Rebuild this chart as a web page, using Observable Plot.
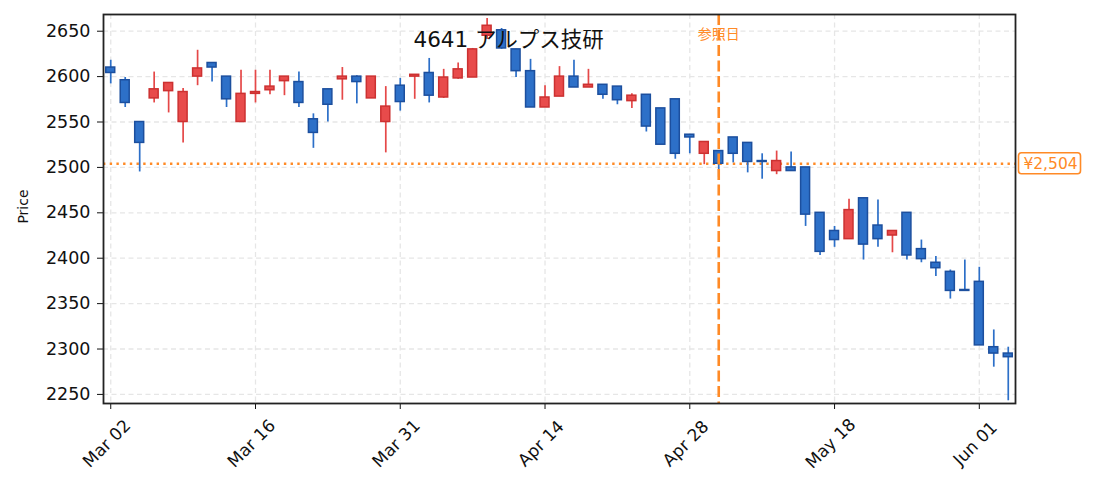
<!DOCTYPE html>
<html><head><meta charset="utf-8">
<script src="https://cdn.jsdelivr.net/npm/d3@7"></script>
<script src="https://cdn.jsdelivr.net/npm/@observablehq/plot@0.6"></script>
<style>body{margin:0;background:#fff} svg{display:block}</style>
</head><body><div id="chart"></div>
<script>
const title = "4641 アルプス技研";
const refLabel = "参照日";
const yLabel = "Price";
const tickLabels = ["Mar 02", "Mar 16", "Mar 31", "Apr 14", "Apr 28", "May 18", "Jun 01"];
const tickIndex = [0, 10, 20, 30, 40, 50, 60];
const yTicks = [2250, 2300, 2350, 2400, 2450, 2500, 2550, 2600, 2650];
const opens  = [2610,2596,2550,2576,2584,2550,2600,2615,2600,2550,2581,2585,2595,2594,2553,2586,2597,2600,2576,2550,2590,2600,2604,2577,2598,2599,2645,2651,2630,2606,2566,2578,2600,2588,2591,2589,2573,2580,2565,2575,2536,2515,2518,2533,2527,2507,2496,2500,2500,2450,2430,2421,2466,2436,2425,2450,2410,2395,2385,2365,2374,2302,2295];
const highs  = [2618,2599,2550,2605,2593,2587,2629,2615,2600,2607,2607,2607,2600,2605,2559,2586,2610,2601,2600,2589,2598,2602,2620,2608,2615,2631,2664,2653,2630,2619,2590,2611,2618,2608,2591,2589,2581,2580,2565,2575,2536,2528,2518,2533,2527,2515,2518,2517,2500,2450,2435,2465,2466,2464,2430,2450,2420,2402,2387,2398,2390,2321,2302];
const lows   = [2592,2566,2495,2571,2560,2527,2590,2594,2566,2550,2571,2580,2579,2566,2521,2550,2574,2570,2576,2516,2562,2575,2571,2576,2597,2599,2641,2630,2599,2566,2566,2578,2588,2588,2575,2569,2565,2539,2525,2509,2515,2503,2489,2505,2494,2487,2492,2496,2435,2403,2412,2421,2398,2412,2406,2398,2395,2380,2355,2364,2304,2280,2243];
const closes = [2604,2571,2527,2586,2593,2583,2609,2610,2575,2581,2583,2589,2600,2571,2538,2569,2600,2594,2600,2567,2572,2602,2579,2599,2608,2630,2656,2631,2606,2566,2577,2600,2588,2591,2580,2574,2579,2545,2525,2515,2533,2528,2504,2515,2506,2506,2507,2496,2448,2407,2420,2453,2415,2421,2430,2403,2399,2389,2364,2364,2304,2295,2291];
const refIndex = 42;
const refPrice = 2504;

const data = opens.map((o, i) => ({i, open: o, high: highs[i], low: lows[i], close: closes[i], up: closes[i] > o}));

const ORANGE = "#ff8a26";
const font = "'DejaVu Sans', 'Noto Sans CJK JP', sans-serif";

function priceBox(index, scales) {
  const y = scales.y(refPrice);
  const g = d3.create("svg:g");
  const x0 = 1018.5;
  g.append("rect").attr("x", x0).attr("y", y - 10.5).attr("width", 62).attr("height", 21)
    .attr("rx", 3).attr("fill", "#fff").attr("stroke", ORANGE).attr("stroke-width", 1.6);
  g.append("text").attr("x", x0 + 32).attr("y", y).attr("dy", "0.36em")
    .attr("text-anchor", "middle").attr("fill", ORANGE).attr("font-size", 15.5)
    .attr("font-family", font).text("¥" + d3.format(",")(refPrice));
  return g.node();
}

const chart = Plot.plot({
  width: 1093, height: 491,
  marginLeft: 103, marginRight: 78, marginTop: 14, marginBottom: 88,
  style: {fontFamily: font, fontSize: "17px", color: "#111", background: "#fff"},
  x: {type: "band", domain: d3.range(opens.length), paddingInner: 0.38, paddingOuter: 0.19, align: 0.5, round: false},
  y: {domain: [2240, 2668.4]},
  color: {type: "identity"},
  marks: [
    Plot.gridY(yTicks, {stroke: "#e6e6e6", strokeOpacity: 1, strokeDasharray: "5,3.5", strokeWidth: 1.3}),
    Plot.gridX(tickIndex, {stroke: "#e6e6e6", strokeOpacity: 1, strokeDasharray: "5,3.5", strokeWidth: 1.3}),
    Plot.ruleY([refPrice], {stroke: ORANGE, strokeWidth: 2.5, strokeDasharray: "2.4,4.3"}),
    Plot.ruleX(data, {x: "i", y1: "low", y2: "high", stroke: d => d.up ? "#e54848" : "#2c6fc8", strokeWidth: 1.7}),
    Plot.barY(data, {x: "i", y1: "open", y2: "close", fill: d => d.up ? "#e84b4b" : "#2d70c8", stroke: d => d.up ? "#cc3131" : "#1c4f9e", strokeWidth: 1.5}),
    Plot.ruleX([refIndex], {stroke: ORANGE, strokeWidth: 2.6, strokeDasharray: "11,4.5"}),
    Plot.text([refLabel], {x: () => refIndex, frameAnchor: "top", lineAnchor: "middle", dy: 20, fill: ORANGE, fontSize: 14, fontFamily: "'Noto Sans CJK JP', sans-serif"}),
    Plot.text([title], {frameAnchor: "top-left", lineAnchor: "middle", dx: 310, dy: 26, textAnchor: "start", fontSize: 21.5, fill: "#111"}),
    Plot.text([yLabel], {frameAnchor: "left", textAnchor: "middle", lineAnchor: "middle", dx: -80, dy: -2.5, rotate: -90, fontSize: 14, fill: "#111"}),
    Plot.axisY({ticks: yTicks, tickFormat: d3.format("d"), tickSize: 6, tickPadding: 7, fontSize: 17.5, label: null, stroke: "#111"}),
    Plot.axisX({ticks: tickIndex, tickFormat: () => "", tickSize: 6, label: null, stroke: "#111"}),
    Plot.text(tickIndex, {x: d => d, text: d => tickLabels[d / 10], frameAnchor: "bottom", dy: 44, rotate: -45, textAnchor: "middle", fontSize: 17, fill: "#111"}),
    Plot.frame({stroke: "#222", strokeWidth: 1.8}),
    priceBox
  ]
});
document.getElementById("chart").appendChild(chart);
</script>
</body></html>
